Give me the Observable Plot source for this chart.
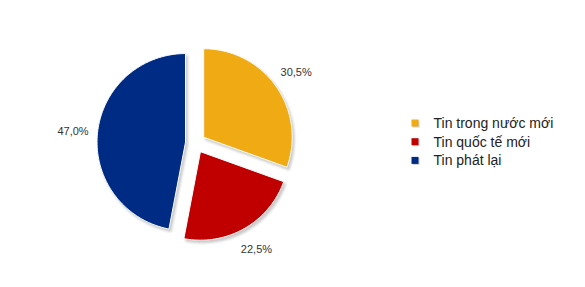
<!DOCTYPE html>
<html><head><meta charset="utf-8">
<script src="https://cdn.jsdelivr.net/npm/d3@7"></script>
<script src="https://cdn.jsdelivr.net/npm/@observablehq/plot@0.6"></script>
<style>body{margin:0;background:#fff}</style>
</head><body><div id="chart"></div>
<script>
const categories = ["Tin trong nước mới", "Tin quốc tế mới", "Tin phát lại"];
const values = [30.5, 22.5, 47.0];
const labels = ["30,5%", "22,5%", "47,0%"];
const colors = ["#F0AA13", "#C00000", "#002B85"];

const W = 585, H = 287;
const cx = 195, cy = 142.5, R = 88.5, explode = 10, labelR = 113;
const legX = 415, legY = 123, legStep = 18.7;

const total = d3.sum(values);
const pts = [], labs = [];
let acc = 0;
values.forEach((v, i) => {
  const a0 = acc / total * 2 * Math.PI; acc += v;
  const a1 = acc / total * 2 * Math.PI;
  const am = (a0 + a1) / 2;
  const ox = cx + explode * Math.sin(am), oy = cy - explode * Math.cos(am);
  pts.push({cat: categories[i], x: ox, y: oy});
  const n = Math.ceil((a1 - a0) / (Math.PI / 180));
  for (let k = 0; k <= n; k++) {
    const a = a0 + (a1 - a0) * k / n;
    pts.push({cat: categories[i], x: ox + R * Math.sin(a), y: oy - R * Math.cos(a)});
  }
  pts.push({cat: categories[i], x: ox, y: oy});
  labs.push({text: labels[i], x: ox + labelR * Math.sin(am), y: oy - labelR * Math.cos(am)});
});
const legend = categories.map((c, i) => ({cat: c, x: legX, y: legY + i * legStep}));

const chart = Plot.plot({
  width: W, height: H, margin: 0,
  style: {fontFamily: "'Liberation Sans', Arial, sans-serif", background: "#fff"},
  x: {domain: [0, W], range: [0, W], axis: null},
  y: {domain: [0, H], range: [0, H], axis: null},
  color: {domain: categories, range: colors},
  marks: [
    Plot.line(pts, {x: d => d.x + 2, y: d => d.y + 2.5, z: "cat", fill: "#c8c8c8", stroke: "#d8d8d8", strokeWidth: 1.5, curve: "linear", imageFilter: "blur(1.2px)"}),
    Plot.line(pts, {x: "x", y: "y", z: "cat", fill: "cat", stroke: "#fff", strokeWidth: 1, curve: "linear"}),
    Plot.text(labs, {x: "x", y: "y", text: "text", fontSize: 11, fill: "#333"}),
    Plot.rect(legend, {x1: d => d.x - 3.5 + 1, x2: d => d.x + 3.5 + 1, y1: d => d.y - 3.5 + 1, y2: d => d.y + 3.5 + 1, fill: "#d0d0d0"}),
    Plot.rect(legend, {x1: d => d.x - 3.5, x2: d => d.x + 3.5, y1: d => d.y - 3.5, y2: d => d.y + 3.5, fill: "cat"}),
    Plot.text(legend, {x: d => d.x + 18, y: "y", text: "cat", textAnchor: "start", fontSize: 14, fill: "#222"})
  ]
});
document.getElementById("chart").append(chart);
</script>
</body></html>
